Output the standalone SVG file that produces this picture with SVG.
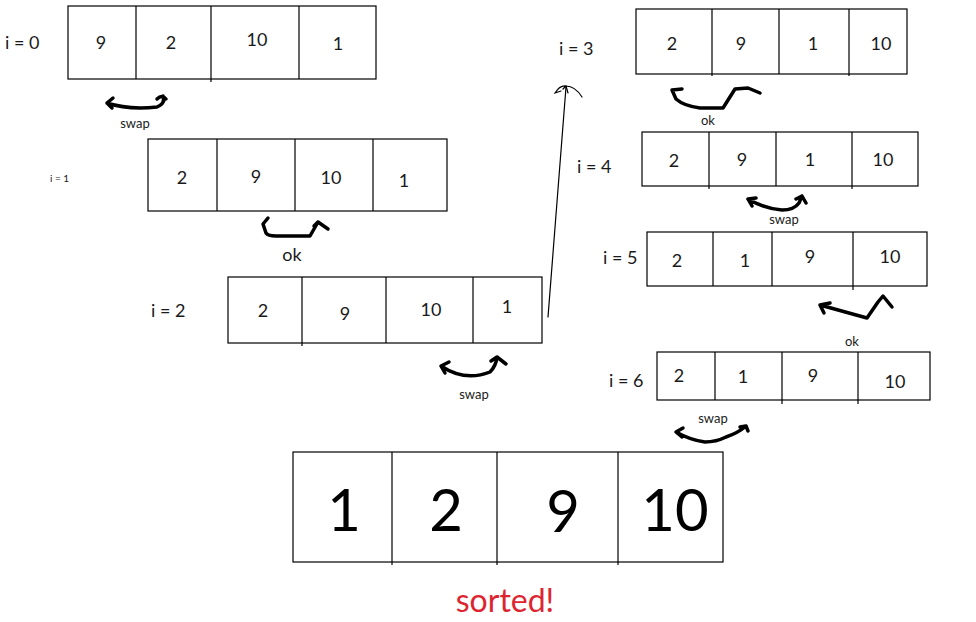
<svg xmlns="http://www.w3.org/2000/svg" width="976" height="622" viewBox="0 0 976 622">
<style>
.box{fill:#fff;stroke:#000;stroke-width:1.2}
.div{stroke:#000;stroke-width:1.2;fill:none}
.n{font-family:Lato,"Open Sans",sans-serif;font-size:18px;fill:#1a1a1a;text-anchor:middle}
.lbl{font-family:Lato,"Open Sans",sans-serif;font-size:18px;fill:#1a1a1a}
.sm{font-family:Lato,"Open Sans",sans-serif;font-size:13px;fill:#1a1a1a;text-anchor:middle}
.big{font-family:Lato,"Open Sans",sans-serif;font-size:58px;fill:#000;text-anchor:middle}
.arc{fill:none;stroke:#000;stroke-width:3.5;stroke-linecap:round;stroke-linejoin:round}
.thin{fill:none;stroke:#000;stroke-width:1.2;stroke-linecap:round}
</style>
<rect width="976" height="622" fill="#fff"/>

<g id="row0">
<rect class="box" x="68" y="6" width="308" height="73"/>
<path class="div" d="M136,6V79M211,6V82M299,6V79"/>
<text class="lbl" x="5" y="49">i = 0</text>
<text class="n" x="101" y="49">9</text>
<text class="n" x="171" y="49">2</text>
<text class="n" x="257" y="46">10</text>
<text class="n" x="338" y="50">1</text>
</g>

<g id="row1">
<rect class="box" x="148" y="139" width="299" height="72"/>
<path class="div" d="M217,139V211M295,139V211M373,139V211"/>
<text class="lbl" x="50" y="182" style="font-size:10px">i = 1</text>
<text class="n" x="182" y="184">2</text>
<text class="n" x="256" y="183">9</text>
<text class="n" x="331" y="184">10</text>
<text class="n" x="404" y="187">1</text>
</g>

<g id="row2">
<rect class="box" x="228" y="277" width="314" height="66"/>
<path class="div" d="M302,277V346M386,277V343M473,277V343"/>
<text class="lbl" x="151" y="317">i = 2</text>
<text class="n" x="263" y="317">2</text>
<text class="n" x="345" y="320">9</text>
<text class="n" x="431" y="316">10</text>
<text class="n" x="507" y="313">1</text>
</g>

<g id="row3">
<rect class="box" x="636" y="9" width="271" height="65"/>
<path class="div" d="M712,9V76M779,9V74M849,9V76"/>
<text class="lbl" x="559" y="55">i = 3</text>
<text class="n" x="672" y="50">2</text>
<text class="n" x="741" y="50">9</text>
<text class="n" x="813" y="50">1</text>
<text class="n" x="881" y="50">10</text>
</g>

<g id="row4">
<rect class="box" x="642" y="132" width="276" height="54"/>
<path class="div" d="M709,132V189M776,132V186M852,132V189"/>
<text class="lbl" x="577" y="173">i = 4</text>
<text class="n" x="674" y="167">2</text>
<text class="n" x="742" y="166">9</text>
<text class="n" x="810" y="166">1</text>
<text class="n" x="883" y="166">10</text>
</g>

<g id="row5">
<rect class="box" x="647" y="232" width="280" height="54"/>
<path class="div" d="M713,232V286M772,232V286M853,232V290"/>
<text class="lbl" x="603" y="264">i = 5</text>
<text class="n" x="677" y="267">2</text>
<text class="n" x="745" y="267">1</text>
<text class="n" x="810" y="263">9</text>
<text class="n" x="890" y="263">10</text>
</g>

<g id="row6">
<rect class="box" x="657" y="352" width="273" height="48"/>
<path class="div" d="M715,352V400M782,352V404M858,352V404"/>
<text class="lbl" x="609" y="387">i = 6</text>
<text class="n" x="679" y="382">2</text>
<text class="n" x="743" y="383">1</text>
<text class="n" x="813" y="382">9</text>
<text class="n" x="895" y="388">10</text>
</g>

<g id="sorted">
<rect class="box" x="293" y="452" width="430" height="110"/>
<path class="div" d="M392,452V565M497,452V565M618,452V565"/>
<text class="big" x="344" y="531">1</text>
<text class="big" x="446" y="531">2</text>
<text class="big" x="563" y="532">9</text>
<text class="big" x="675" y="531">10</text>
<text x="505" y="612" style="font-family:Lato,'Open Sans',sans-serif;font-size:32px;fill:#dd2530;text-anchor:middle">sorted!</text>
</g>

<g id="connectors">
<path class="arc" d="M113,98 L107,103 L112,108 M107,103 Q128,110 157,107 Q166,103 163,96 M157,99 Q162,94 166,99"/>
<path class="arc" d="M268,218 L263,224 L266,233 Q268,236 276,236 L310,236 L318,222 L328,229 M318,222 L314,226"/>
<path class="arc" d="M449,362 L441,366 L445,373 M441,366 Q465,382 490,372 Q496,366 497,357 L506,364 M497,357 L491,361"/>
<path class="arc" d="M682,89 L672,90 L676,99 Q684,106 700,108 L723,108 L735,89 L748,88 L760,93"/>
<path class="arc" d="M756,198 L748,199 L752,206 M748,199 Q765,209 782,210 Q794,210 799,203 L802,196 L806,203 M802,196 L796,199"/>
<path class="arc" d="M830,303 L820,305 L824,313 M820,305 Q845,312 867,318 L878,302 L883,296 L892,307"/>
<path class="arc" d="M683,428 L676,432 L682,437 M676,432 Q690,440 705,442 Q716,442 726,437 Q738,433 746,426 L748,431 M746,426 L740,427"/>
<path class="thin" d="M548,317 L566,87"/>
<path class="thin" d="M566,86 Q560,85 555,93 L561,91 M566,86 Q575,86 582,97 M563,89 L566,86 L568,93"/>
</g>
<text class="sm" x="135" y="128">swap</text>
<text class="lbl" x="292" y="261" style="text-anchor:middle">ok</text>
<text class="sm" x="474" y="399">swap</text>
<text class="sm" x="708" y="125">ok</text>
<text class="sm" x="784" y="224">swap</text>
<text class="sm" x="852" y="346">ok</text>
<text class="sm" x="713" y="423">swap</text>
</svg>
